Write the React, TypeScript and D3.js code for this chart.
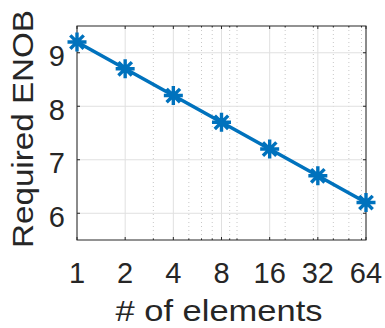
import React from "react";
import * as d3 from "d3";

// values
const elements = [1, 2, 4, 8, 16, 32, 64];
const enob = [9.2, 8.7, 8.2, 7.7, 7.2, 6.7, 6.2];
const yTicks = [6, 7, 8, 9];
const xMinor = [3, 5, 6, 7, 9, 10, 20, 30, 40, 50, 60];

const W = 385;
const H = 328;
const left = 77;
const right = 366;
const top = 26;
const bottom = 240;

const font = "'Liberation Sans', Arial, Helvetica, sans-serif";
const ink = "#262626";
const blue = "#0072BD";

const App = () => {
  const x = d3.scaleLog().base(2).domain([1, 64]).range([left, right]);
  const y = d3.scaleLinear().domain([5.5, 9.5]).range([bottom, top]);

  const line = d3
    .line<number>()
    .x((d, i) => x(elements[i]))
    .y((d) => y(d));

  const r = 9.5;
  const d45 = r * Math.SQRT1_2;
  const star = `M${-r},0L${r},0M0,${-r}L0,${r}M${-d45},${-d45}L${d45},${d45}M${-d45},${d45}L${d45},${-d45}`;

  return (
    <svg
      width={W}
      height={H}
      style={{ position: "absolute", left: 0, top: 0, background: "#fff" }}
    >
      {/* minor grid */}
      {xMinor.map((v) => (
        <line
          key={"m" + v}
          x1={x(v)}
          x2={x(v)}
          y1={top}
          y2={bottom}
          stroke="#c8c8c8"
          strokeWidth={1}
          strokeDasharray="1,3"
        />
      ))}
      {/* major grid */}
      {elements.map((v) => (
        <line key={"gx" + v} x1={x(v)} x2={x(v)} y1={top} y2={bottom} stroke="#e0e0e0" />
      ))}
      {yTicks.map((v) => (
        <line key={"gy" + v} x1={left} x2={right} y1={y(v)} y2={y(v)} stroke="#e0e0e0" />
      ))}

      {/* tick marks inside the box */}
      {elements.map((v) => (
        <g key={"t" + v} stroke={ink}>
          <line x1={x(v)} x2={x(v)} y1={bottom} y2={bottom - 3} />
          <line x1={x(v)} x2={x(v)} y1={top} y2={top + 3} />
        </g>
      ))}
      {xMinor.map((v) => (
        <g key={"tm" + v} stroke={ink}>
          <line x1={x(v)} x2={x(v)} y1={bottom} y2={bottom - 1.5} />
          <line x1={x(v)} x2={x(v)} y1={top} y2={top + 1.5} />
        </g>
      ))}
      {yTicks.map((v) => (
        <g key={"ty" + v} stroke={ink}>
          <line x1={left} x2={left + 3} y1={y(v)} y2={y(v)} />
          <line x1={right} x2={right - 3} y1={y(v)} y2={y(v)} />
        </g>
      ))}

      {/* box */}
      <rect
        x={left}
        y={top}
        width={right - left}
        height={bottom - top}
        fill="none"
        stroke={ink}
        strokeWidth={1}
      />

      {/* series */}
      <path d={line(enob) || ""} fill="none" stroke={blue} strokeWidth={3.6} />
      {enob.map((v, i) => (
        <path
          key={"s" + i}
          d={star}
          transform={`translate(${x(elements[i])},${y(v)})`}
          stroke={blue}
          strokeWidth={3.4}
          fill="none"
        />
      ))}

      {/* tick labels */}
      {elements.map((v) => (
        <text
          key={"lx" + v}
          x={x(v)}
          y={283}
          textAnchor="middle"
          fontFamily={font}
          fontSize={29}
          fill={ink}
        >
          {v}
        </text>
      ))}
      {yTicks.map((v) => (
        <text
          key={"ly" + v}
          x={65}
          y={y(v) + 13.5}
          textAnchor="end"
          fontFamily={font}
          fontSize={29}
          fill={ink}
        >
          {v}
        </text>
      ))}

      {/* axis labels */}
      <text
        x={219}
        y={321}
        textAnchor="middle"
        fontFamily={font}
        fontSize={30}
        fill={ink}
        textLength={207}
        lengthAdjust="spacingAndGlyphs"
      >
        # of elements
      </text>
      <text
        transform="translate(33,129) rotate(-90)"
        textAnchor="middle"
        fontFamily={font}
        fontSize={30}
        fill={ink}
        textLength={238}
        lengthAdjust="spacingAndGlyphs"
      >
        Required ENOB
      </text>
    </svg>
  );
};

export default App;
